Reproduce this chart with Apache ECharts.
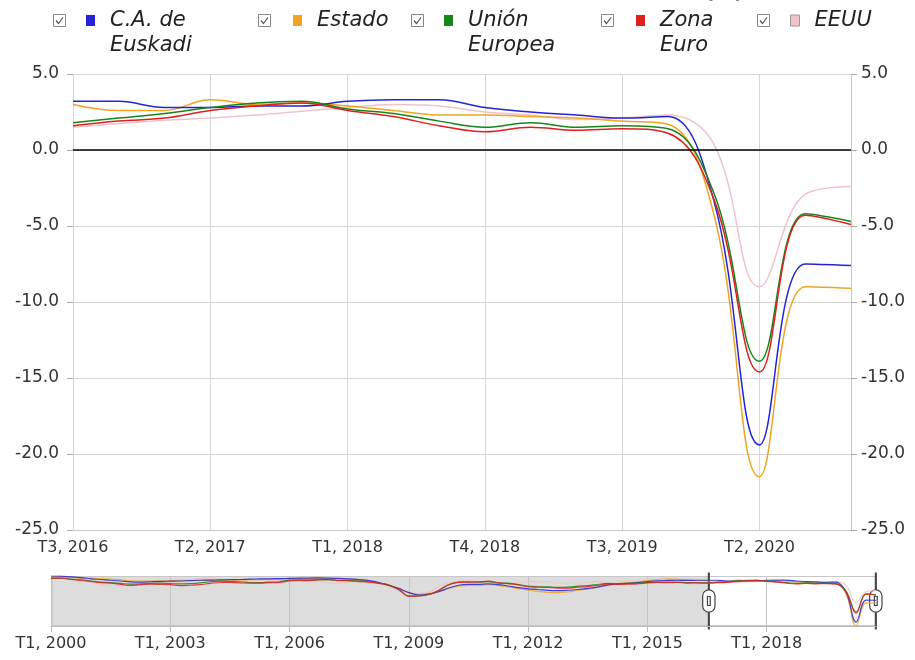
<!DOCTYPE html>
<html>
<head>
<meta charset="utf-8">
<script src="https://cdn.jsdelivr.net/npm/echarts@6/dist/echarts.min.js"></script>
<style>html,body{margin:0;padding:0;background:#fff}#box{width:915px;height:660px}</style>
</head>
<body>
<div id="box"></div>
<script>
// trimestres T1, 2000 ... T4, 2020
var quarters = [];
for (var y = 2000; y <= 2020; y++) {
  for (var q = 1; q <= 4; q++) quarters.push('T' + q + ', ' + y);
}

var names = ['C.A. de Euskadi', 'Estado', 'Unión Europea', 'Zona Euro', 'EEUU'];
// leading blank line keeps the first text line level with the colour square
var legendLabels = ['\nC.A. de\nEuskadi', 'Estado', '\nUnión\nEuropea', '\nZona\nEuro', 'EEUU'];
var colors = ['#2424d6', '#f0a422', '#17861a', '#e01f1f', '#efc3ca'];

var euskadi = [
  5.5, 5.4, 5.0, 4.6,  4.0, 3.6, 3.2, 2.8,  2.3, 2.2, 2.4, 2.6,  2.7, 2.8, 3.0, 3.2,
  3.3, 3.4, 3.5, 3.6,  3.8, 3.9, 4.0, 4.1,  4.2, 4.3, 4.4, 4.5,  4.3, 4.2, 3.9, 3.5,
  3.0, 2.0, 0.5, -1.2, -3.5, -4.8, -4.3, -3.0, -1.0, 0.5, 1.0, 1.0, 1.2, 0.8, 0.1, -0.8,
  -1.4, -1.8, -2.3, -2.4, -2.2, -1.8, -1.2, -0.5, 0.6, 1.1, 1.5, 1.9, 2.5, 2.9, 3.1, 3.2,
  3.1, 3.2, 3.2, 3.2,  2.8, 2.8, 2.9, 2.9,  3.2, 3.3, 3.3, 2.8,  2.5, 2.3, 2.1, 2.2,
  -3.3, -19.4, -7.5, -7.6
];
var estado = [
  5.3, 5.3, 5.0, 4.3,  4.3, 4.0, 3.8, 3.5,  2.9, 2.8, 2.8, 2.7,  3.0, 3.1, 3.1, 3.2,
  3.1, 3.2, 3.2, 3.3,  3.5, 3.6, 3.7, 3.6,  4.0, 4.1, 4.1, 4.2,  4.1, 4.0, 3.7, 3.3,
  2.7, 1.7, 0.3, -1.4, -3.4, -4.4, -3.9, -3.0, -1.2, 0.0, 0.4, 0.4, 0.8, 0.3, -0.4, -1.3,
  -2.0, -2.8, -3.3, -3.5, -3.1, -2.2, -1.6, -0.4, 0.8, 1.3, 1.8, 2.2, 3.0, 3.6, 4.0, 3.8,
  3.4, 3.1, 3.0, 2.6,  2.6, 3.3, 3.0, 3.1,  2.9, 2.6, 2.3, 2.3,  2.2, 2.1, 1.9, 1.7,
  -4.2, -21.5, -9.0, -9.1
];
var ue = [
  4.2, 4.3, 3.8, 3.4,  2.8, 2.2, 1.9, 1.5,  1.1, 1.2, 1.5, 1.6,  1.4, 1.2, 1.4, 1.8,
  2.4, 2.7, 2.5, 2.4,  2.0, 1.9, 2.2, 2.4,  3.3, 3.4, 3.4, 3.5,  3.4, 3.1, 3.1, 2.8,
  2.4, 1.6, 0.6, -1.9, -5.4, -5.3, -4.5, -2.3, 0.8, 2.2, 2.3, 2.2, 2.5, 1.8, 1.6, 0.9,
  0.0, -0.3, -0.4, -0.6, -0.5, 0.0, 0.3, 0.9, 1.5, 1.4, 1.5, 1.7, 2.0, 2.2, 2.2, 2.2,
  1.9, 1.9, 1.8, 2.1,  2.4, 2.8, 3.1, 3.2,  2.7, 2.4, 1.9, 1.5,  1.8, 1.5, 1.6, 1.4,
  -2.8, -13.9, -4.2, -4.7
];
var zonaEuro = [
  4.3, 4.4, 3.6, 3.2,  2.6, 1.9, 1.6, 1.0,  0.4, 0.8, 1.1, 1.0,  0.8, 0.3, 0.5, 0.8,
  1.5, 2.0, 2.0, 1.8,  1.6, 1.6, 1.9, 2.0,  2.9, 3.1, 3.0, 3.5,  3.6, 3.0, 2.9, 2.5,
  2.2, 1.5, 0.4, -1.8, -5.4, -5.3, -4.5, -2.3, 0.8, 2.1, 2.2, 2.3, 2.7, 1.8, 1.4, 0.7,
  -0.3, -0.5, -0.7, -1.0, -1.1, -0.5, -0.2, 0.5, 1.3, 1.0, 1.1, 1.3, 1.8, 2.0, 1.9, 2.0,
  1.7, 1.8, 1.6, 1.9,  2.1, 2.6, 2.9, 3.1,  2.6, 2.2, 1.6, 1.2,  1.5, 1.3, 1.4, 1.1,
  -3.2, -14.6, -4.3, -4.9
];
var eeuu = [
  4.2, 5.2, 4.1, 3.0,  2.3, 1.0, 0.5, 0.2,  1.2, 1.7, 2.1, 2.0,  1.8, 2.1, 3.0, 4.2,
  4.2, 3.8, 3.5, 3.1,  3.5, 3.2, 3.4, 3.0,  3.1, 2.9, 2.4, 2.6,  1.7, 1.8, 2.3, 2.4,
  1.6, 1.2, 0.0, -2.8, -3.3, -3.9, -3.2, -0.2, 1.7, 2.7, 3.1, 2.6, 1.9, 1.7, 1.2, 1.6,
  2.6, 2.3, 2.5, 1.5,  1.6, 1.3, 1.9, 2.6,  1.5, 2.6, 2.9, 2.7,  3.8, 3.3, 2.5, 2.2,
  1.4, 1.3, 1.5, 1.75, 1.95, 2.1, 2.3, 2.55, 2.8, 3.0, 2.9, 2.5, 2.3, 2.0, 2.1, 2.3,
  0.4, -9.0, -2.9, -2.4
];
var values = [euskadi, estado, ue, zonaEuro, eeuu];

var yTicks = { min: -25, max: 5, interval: 5 };
var legendLeft = [86, 293, 444, 636, 790];
var checkLeft = [53, 258, 411, 601, 757];

var font = 'DejaVu Sans';
var drawOrder = [4, 1, 0, 2, 3];

var series = [];
drawOrder.forEach(function (i) {
  series.push({
    name: names[i], type: 'line', xAxisIndex: 0, yAxisIndex: 0,
    data: values[i], smooth: 0.4, showSymbol: false, silent: true,
    lineStyle: { width: 1.5, color: colors[i] }, itemStyle: { color: colors[i] },
    z: 3
  });
});
series[0].markLine = {
  silent: true, symbol: 'none', label: { show: false },
  lineStyle: { color: '#000', width: 1.5, type: 'solid' },
  data: [{ yAxis: 0 }]
};
drawOrder.forEach(function (i) {
  series.push({
    name: names[i], type: 'line', xAxisIndex: 1, yAxisIndex: 2,
    data: values[i], smooth: 0.4, showSymbol: false, silent: true,
    lineStyle: { width: 1.2, color: colors[i], opacity: 0.85 }, itemStyle: { color: colors[i] },
    z: 6
  });
});

var legends = names.map(function (n, i) {
  var twoLines = legendLabels[i].indexOf('\n') >= 0;
  return {
    data: [n], left: legendLeft[i], top: twoLines ? -17 : 8, padding: 0, icon: 'rect',
    itemWidth: 9, itemHeight: 11,
    itemStyle: i === 4 ? { borderColor: '#999', borderWidth: 1 } : {},
    formatter: function () { return legendLabels[i]; },
    textStyle: {
      fontFamily: font, fontSize: 21, fontStyle: 'italic', color: '#222',
      lineHeight: 25, padding: [0, 0, 0, 10]
    }
  };
});

var checks = checkLeft.map(function (x) {
  return {
    type: 'group', left: x, top: 14,
    children: [
      { type: 'rect', shape: { x: 0, y: 0, width: 12, height: 12 }, style: { fill: '#fff', stroke: '#888', lineWidth: 1 } },
      { type: 'polyline', shape: { points: [[2.5, 6], [5, 9], [9.5, 3]] }, style: { fill: null, stroke: '#555', lineWidth: 1.2 } }
    ]
  };
});

var labelStyle = { fontFamily: font, fontSize: 16, color: '#333' };
var yLabelStyle = { fontFamily: font, fontSize: 17, color: '#333' };

var option = {
  animation: false,
  title: {
    text: 'Evolución del PIB: tasa de variación interanual (%)',
    left: 'center', top: -22,
    textStyle: { fontFamily: font, fontSize: 20, fontWeight: 'bold', color: '#111' }
  },
  legend: legends,
  graphic: checks,
  grid: [
    { left: 73, right: 64, top: 74, bottom: 130 },
    { left: 51, right: 39, top: 576, height: 50 }
  ],
  xAxis: [
    {
      gridIndex: 0, type: 'category', data: quarters, boundaryGap: false,
      axisLine: { onZero: false, lineStyle: { color: '#c8c8c8' } },
      axisTick: { show: false },
      axisLabel: Object.assign({ interval: 2, margin: 10 }, labelStyle),
      splitLine: { show: true, interval: 2, lineStyle: { color: '#d6d6d6' } }
    },
    {
      gridIndex: 1, type: 'category', data: quarters, boundaryGap: false, z: 5,
      axisLine: { onZero: false, lineStyle: { color: '#bbb' } },
      axisTick: { show: true, interval: 11, length: 6, lineStyle: { color: '#bbb' } },
      axisLabel: Object.assign({ interval: 11, margin: 10 }, labelStyle),
      splitLine: { show: true, interval: 11, lineStyle: { color: '#c4c4c4' } }
    }
  ],
  yAxis: [
    {
      gridIndex: 0, type: 'value', position: 'left',
      min: yTicks.min, max: yTicks.max, interval: yTicks.interval,
      axisLine: { show: false },
      axisTick: { show: true, length: 6, lineStyle: { color: '#aaa' } },
      axisLabel: Object.assign({ margin: 14, formatter: function (v) { return v.toFixed(1); } }, yLabelStyle),
      splitLine: { lineStyle: { color: '#d6d6d6' } }
    },
    {
      gridIndex: 0, type: 'value', position: 'right',
      min: yTicks.min, max: yTicks.max, interval: yTicks.interval,
      axisLine: { show: true, lineStyle: { color: '#c8c8c8' } },
      axisTick: { show: true, length: 6, lineStyle: { color: '#aaa' } },
      axisLabel: Object.assign({ margin: 10, formatter: function (v) { return v.toFixed(1); } }, yLabelStyle),
      splitLine: { show: false }
    },
    { gridIndex: 1, type: 'value', min: 'dataMin', max: 'dataMax', show: false }
  ],
  dataZoom: [{
    type: 'slider', xAxisIndex: 0, startValue: 66, endValue: 83,
    left: 51, right: 39, top: 576, height: 50, z: 1,
    showDetail: false, showDataShadow: false, brushSelect: false, moveHandleSize: 0,
    backgroundColor: '#dddddd', fillerColor: '#ffffff', borderColor: '#c8c8c8',
    handleIcon: 'path://M10.2,0H11.8V30H10.2Z M10.2,70H11.8V100H10.2Z M0,41A11,11 0 0 1 22,41V59A11,11 0 0 1 0,59Z M8.5,42H13.5V58H8.5Z',
    handleSize: '112%',
    handleStyle: { color: '#fff', borderColor: '#444', borderWidth: 1.2 }
  }],
  series: series
};

var mychart = echarts.init(document.getElementById('box'));
mychart.setOption(option);
</script>
</body>
</html>
